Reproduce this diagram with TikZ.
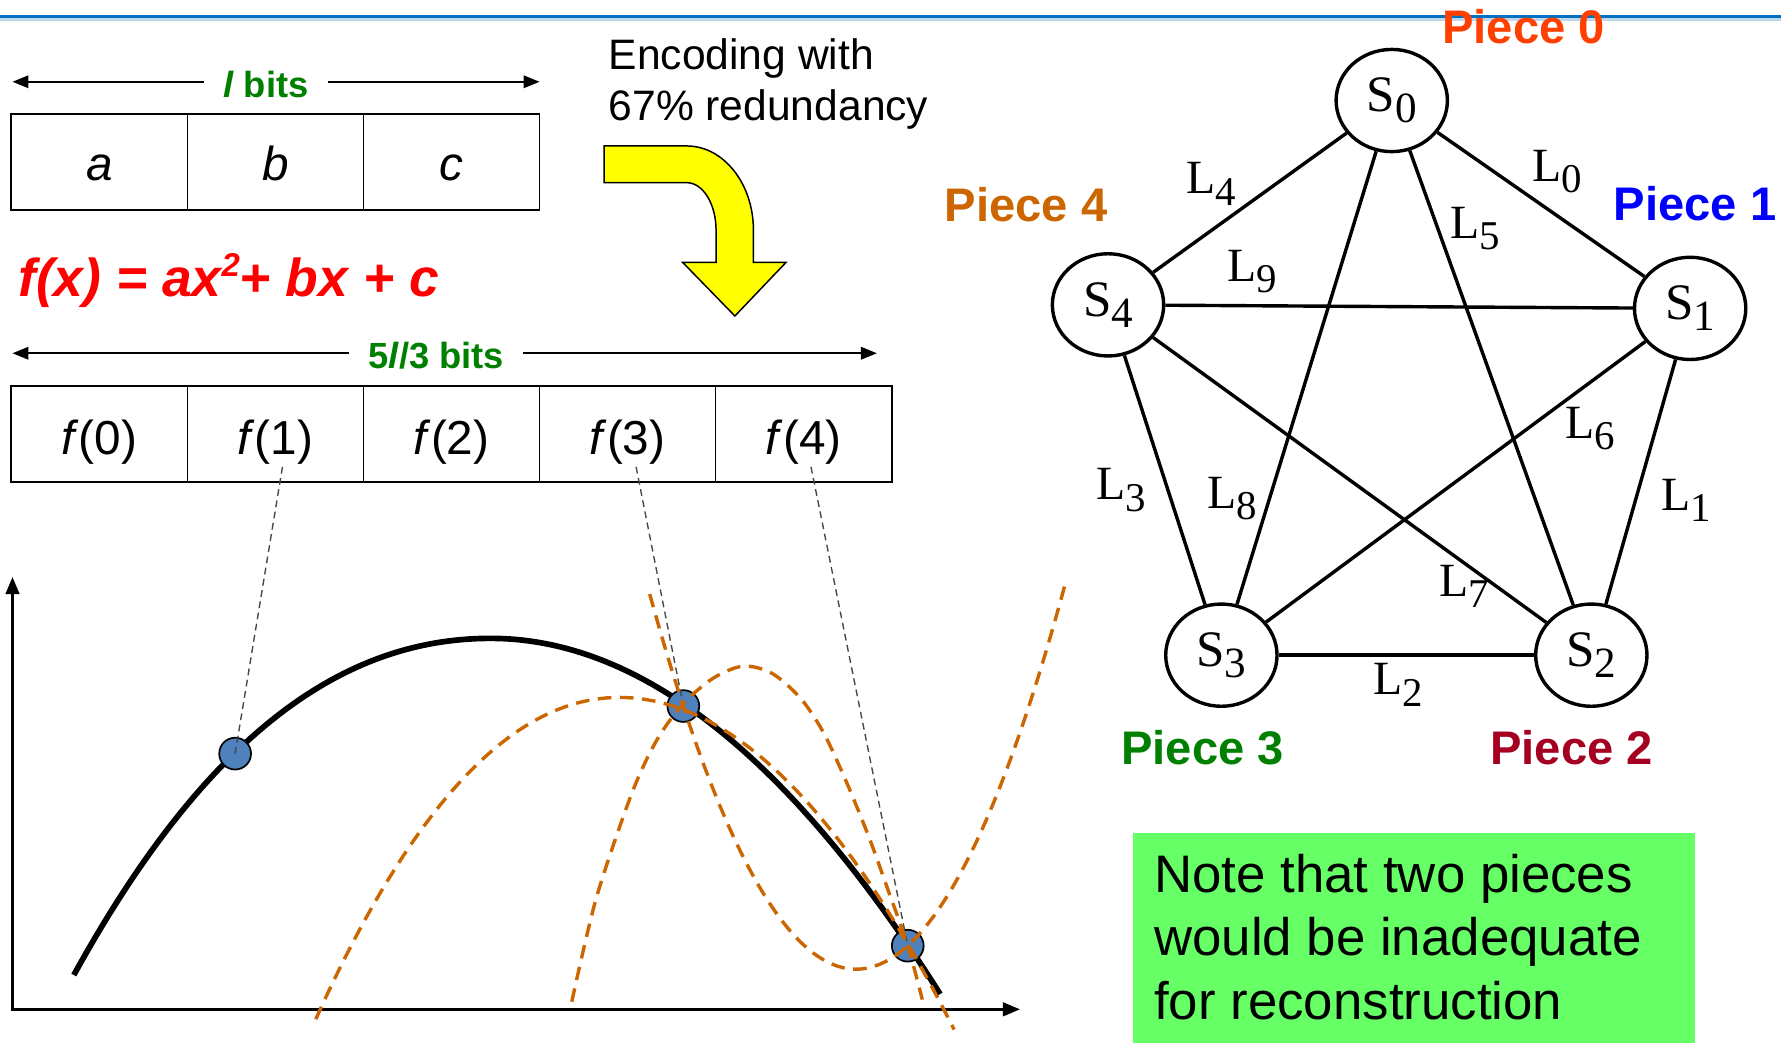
\documentclass[tikz,border=0pt]{standalone}
\usepackage{fontspec}
\setmainfont{Liberation Sans}
\newfontfamily\tms{Liberation Serif}
\usetikzlibrary{arrows.meta,shapes.geometric}
\definecolor{topblue}{RGB}{0,112,192}
\definecolor{toplight}{RGB}{190,215,238}
\definecolor{bitgreen}{RGB}{0,128,0}
\definecolor{fred}{RGB}{255,0,0}
\definecolor{arrowyellow}{RGB}{255,255,0}
\definecolor{curveorange}{RGB}{204,102,0}
\definecolor{dotblue}{RGB}{79,129,189}
\definecolor{guidegray}{RGB}{70,70,70}
\definecolor{pzero}{RGB}{255,64,0}
\definecolor{pone}{RGB}{0,0,255}
\definecolor{ptwo}{RGB}{165,0,33}
\definecolor{pthree}{RGB}{0,128,0}
\definecolor{pfour}{RGB}{204,102,0}
\definecolor{notegreen}{RGB}{102,255,102}
\newcommand\mysub[1]{\raisebox{-10pt}{\fontsize{38}{38}\selectfont #1}}
\newcommand\mylsub[1]{\raisebox{-10pt}{\fontsize{36}{36}\selectfont #1}}
\tikzset{
 cell/.style={draw, line width=1.6pt, minimum width=155pt, minimum height=84.6pt, inner sep=0pt},
 celltxt/.style={font=\fontsize{42}{50}\selectfont, inner sep=0pt, anchor=base},
 bitarrow/.style={line width=1.6pt, {Triangle[length=14pt,width=11pt]}-{Triangle[length=14pt,width=11pt]}},
 bitlabel/.style={fill=white, text=bitgreen, font=\fontsize{32}{36}\selectfont\bfseries, inner xsep=17pt, inner ysep=3pt},
 axis/.style={line width=2.2pt, -{Triangle[length=15pt,width=12pt]}},
 dot/.style={circle, draw, line width=1.5pt, fill=dotblue, minimum size=28pt, inner sep=0pt},
 guide/.style={draw=guidegray, line width=1.2pt, dash pattern=on 6pt off 4pt},
 alt/.style={draw=curveorange, line width=3pt, dash pattern=on 12pt off 7.5pt},
 srv/.style={ellipse, draw, line width=3pt, minimum width=98pt, minimum height=90pt, inner sep=0pt, font=\tms\fontsize{45}{45}\selectfont},
 link/.style={line width=3pt},
 lnk/.style={font=\tms\fontsize{42}{42}\selectfont, inner sep=0pt},
 piece/.style={font=\fontsize{41.5}{45}\selectfont\bfseries, inner sep=0pt},
 plain/.style={inner sep=0pt, anchor=base west},
}
\begin{document}
\begin{tikzpicture}[x=1pt,y=-1pt]
\useasboundingbox (0,0) rectangle (1568,918);
\fill[white] (0,0) rectangle (1568,918);
% top rule
\fill[toplight] (0,15.6) rectangle (1568,18.4);
\draw[topblue, line width=2.6pt] (0,14.3) -- (1568,14.3);

% l bits arrow
\coordinate (la) at (11,72);
\coordinate (lb) at (475,72);
\draw[bitarrow] (la) -- (lb);
\node[bitlabel] (lbits) at (234,74) {\textit{l} bits};

% a b c boxes
\foreach \t [count=\i from 0] in {a,b,c} {
  \node[cell] (c\t) at ({87.5+155*\i},142.6) {};
  \node[celltxt] (t\t) at ({87.5+155*\i},158.8) {\itshape \t};
}

% formula
\node[plain, text=fred, font=\fontsize{47}{50}\selectfont\bfseries\itshape] (fx) at (16,261.2) {f(x) = ax\raisebox{17.5pt}{\fontsize{29}{29}\selectfont 2}+ bx + c};

% encoding text
\node[plain, font=\fontsize{37.5}{44.6}\selectfont] (enc1) at (535.7,61.6) {Encoding with};
\node[plain, font=\fontsize{37.5}{44.6}\selectfont] (enc2) at (535.7,106.2) {67\% redundancy};

% yellow bent arrow
\draw[line width=1.3pt, fill=arrowyellow, line join=miter]
  (531.8,128.5) -- (604.6,128.5)
  .. controls (637,128.5) and (663.3,161.7) .. (663.3,202.5)
  -- (663.3,231) -- (692,231) -- (647,278.2) -- (601,231) -- (630.4,231)
  -- (630.4,202.5)
  .. controls (630.4,179.5) and (618.8,160.8) .. (604.6,160.8)
  -- (531.8,160.8) -- cycle;

% 5l/3 bits arrow
\coordinate (fa) at (11,311);
\coordinate (fb) at (772,311);
\draw[bitarrow] (fa) -- (fb);
\node[bitlabel] (fbits) at (384,313) {5\textit{l}/3 bits};

% f boxes
\foreach \k in {0,...,4} {
  \node[cell] (f\k) at ({87.5+155*\k},381.9) {};
  \node[celltxt] (ft\k) at ({87.5+155*\k},400.3) {\textit{f}(\k)};
}

% axes
\coordinate (O) at (11,889.6);
\coordinate (ytip) at (11,508);
\coordinate (xtip) at (898,888.6);
\draw[axis] (O) -- (ytip);
\draw[axis] (10,888.6) -- (xtip);

% black curve
\draw[line width=5pt] plot[domain=65:432, samples=60] (\x, {562+16.5*((432-\x)/100)^2+1.5*((432-\x)/100)^3})
  -- plot[domain=432:827.7, samples=60] (\x, {562+20*((\x-432)/100)^2});

% dots
\node[dot] (d1) at (207,663.5) {};
\node[dot] (d2) at (601.6,621.6) {};
\node[dot] (d3) at (799.2,832.6) {};

% guide lines
\coordinate (g1) at (248.7,411);
\coordinate (g3) at (560,411);
\coordinate (g4) at (714,411);
\draw[guide] (g1) -- (d1.center);
\draw[guide] (g3) -- (d2.center);
\draw[guide] (g4) -- (d3.center);

% alternative curves
\draw[alt] plot[domain=278:545, samples=50] (\x, {614+36*((545-\x)/100)^2+1.4*((545-\x)/100)^3})
  -- plot[domain=545:840, samples=50] (\x, {614+33.6*((\x-545)/100)^2});
\draw[alt] plot[smooth] coordinates {(503.4,881.9) (525,790.5) (556,699.1) (578,652) (601.6,619.5) (628,597) (654.5,586.4) (680,593) (705,615) (725,645) (745,688) (765,737) (782,784) (799.2,832.6) (812,880)};
\draw[alt] plot[domain=572:939, samples=70] (\x, {853.3-100.06*((\x-753.7)/100)^2});

% server graph
\node[srv] (s0) at (1225.3,88.5) {S\mysub{0}};
\node[srv] (s1) at (1488,271.5) {S\mysub{1}};
\node[srv] (s2) at (1401,576.8) {S\mysub{2}};
\node[srv] (s3) at (1075.3,576.8) {S\mysub{3}};
\node[srv] (s4) at (975.5,268.4) {S\mysub{4}};
\draw[link] (s0) -- (s1);
\draw[link] (s1) -- (s2);
\draw[link] (s2) -- (s3);
\draw[link] (s3) -- (s4);
\draw[link] (s4) -- (s0);
\draw[link] (s0) -- (s2);
\draw[link] (s1) -- (s3);
\draw[link] (s2) -- (s4);
\draw[link] (s3) -- (s0);
\draw[link] (s4) -- (s1);

\node[lnk] (l0) at (1371.3,151.2) {L\mylsub{0}};
\node[lnk] (l1) at (1484.4,440.6) {L\mylsub{1}};
\node[lnk] (l2) at (1231.3,603) {L\mylsub{2}};
\node[lnk] (l3) at (987.4,431.6) {L\mylsub{3}};
\node[lnk] (l4) at (1066,162) {L\mylsub{4}};
\node[lnk] (l5) at (1298.6,201) {L\mylsub{5}};
\node[lnk] (l6) at (1400,377.4) {L\mylsub{6}};
\node[lnk] (l7) at (1289,516.4) {L\mylsub{7}};
\node[lnk] (l8) at (1085.2,438.8) {L\mylsub{8}};
\node[lnk] (l9) at (1102.8,239.2) {L\mylsub{9}};

\node[piece, text=pzero] (p0) at (1341.4,23.5) {Piece 0};
\node[piece, text=pone] (p1) at (1492.3,179) {Piece 1};
\node[piece, text=ptwo] (p2) at (1383.6,658.1) {Piece 2};
\node[piece, text=pthree] (p3) at (1058.7,658.1) {Piece 3};
\node[piece, text=pfour] (p4) at (903.5,180) {Piece 4};

% note box
\node[fill=notegreen, inner sep=0pt, minimum width=495.4pt, minimum height=184.4pt, anchor=north west] (note) at (997,733.6) {};
\node[plain, font=\fontsize{46.5}{56}\selectfont] (n1) at (1016,785.5) {Note that two pieces};
\node[plain, font=\fontsize{46.5}{56}\selectfont] (n2) at (1016,841.5) {would be inadequate};
\node[plain, font=\fontsize{46.5}{56}\selectfont] (n3) at (1016,897.5) {for reconstruction};
\end{tikzpicture}
\end{document}
